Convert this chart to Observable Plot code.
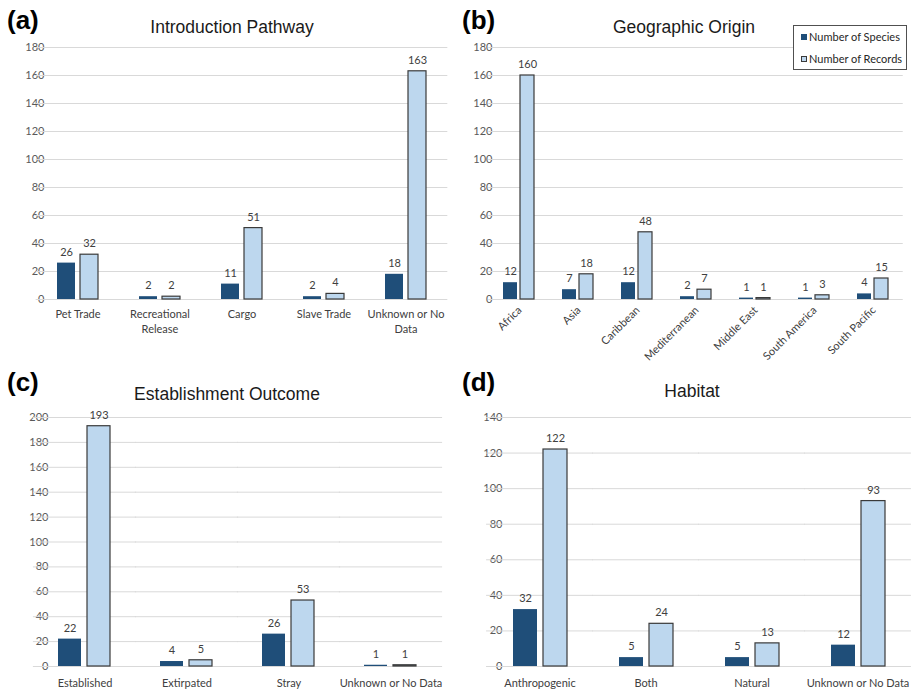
<!DOCTYPE html>
<html>
<head>
<meta charset="utf-8">
<script src="https://cdn.jsdelivr.net/npm/d3@7"></script>
<script src="https://cdn.jsdelivr.net/npm/@observablehq/plot@0.6"></script>
<style>
  html, body { margin: 0; padding: 0; background: #fff; }
  #root { position: relative; width: 911px; height: 690px; overflow: hidden; font-family: Lato, "Liberation Sans", sans-serif; }
  .panel { position: absolute; }
  .tag { position: absolute; font-family: "Liberation Sans", Arial, sans-serif; font-weight: bold; font-size: 26px; color: #000; line-height: 1; }
  .title { position: absolute; font-family: "Liberation Sans", Arial, sans-serif; font-size: 17.5px; color: #1a1a1a; line-height: 1; transform: translate(-50%, -50%); white-space: nowrap; }
  .legend { position: absolute; border: 1px solid #505050; background: #fff; font-family: Lato, sans-serif; font-size: 11px; color: #262626; }
  .legend .item { position: absolute; left: 7px; display: flex; align-items: center; white-space: nowrap; }
  .legend .sw { width: 6px; height: 6px; margin-right: 2px; box-sizing: border-box; }
</style>
</head>
<body>
<div id="root"></div>
<script>
// ---- data ----
const seriesNames = ["Number of Species", "Number of Records"];
const seriesColors = ["#1F4E79", "#BDD7EE"];

const pathwayCats = ["Pet Trade", "Recreational Release", "Cargo", "Slave Trade", "Unknown or No Data"];
const pathwayLabels = ["Pet Trade", "Recreational\nRelease", "Cargo", "Slave Trade", "Unknown or No\nData"];
const pathwaySpecies = [26, 2, 11, 2, 18];
const pathwayRecords = [32, 2, 51, 4, 163];
const pathwayTicks = [0, 20, 40, 60, 80, 100, 120, 140, 160, 180];

const originCats = ["Africa", "Asia", "Caribbean", "Mediterranean", "Middle East", "South America", "South Pacific"];
const originSpecies = [12, 7, 12, 2, 1, 1, 4];
const originRecords = [160, 18, 48, 7, 1, 3, 15];
const originTicks = [0, 20, 40, 60, 80, 100, 120, 140, 160, 180];

const outcomeCats = ["Established", "Extirpated", "Stray", "Unknown or No Data"];
const outcomeSpecies = [22, 4, 26, 1];
const outcomeRecords = [193, 5, 53, 1];
const outcomeTicks = [0, 20, 40, 60, 80, 100, 120, 140, 160, 180, 200];

const habitatCats = ["Anthropogenic", "Both", "Natural", "Unknown or No Data"];
const habitatSpecies = [32, 5, 5, 12];
const habitatRecords = [122, 24, 13, 93];
const habitatTicks = [0, 20, 40, 60, 80, 100, 120, 140];

const root = document.getElementById("root");
const FX_PAD_INNER = 0.48;

function panel(opt) {
  const {cats, labels, species, records, ticks, left, top, width, height,
         marginLeft, marginRight, marginTop, marginBottom, rotate, fxPad, yPad} = opt;
  const data = cats.flatMap((c, i) => [
    {cat: c, series: seriesNames[0], value: species[i]},
    {cat: c, series: seriesNames[1], value: records[i]}
  ]);
  const lab = labels || cats;
  // gridlines are drawn per facet; extend each one across half the gap on either side
  const step = (width - marginLeft - marginRight) / cats.length;
  const ext = step * FX_PAD_INNER / 2 + 0.5;
  const chart = Plot.plot({
    width, height, marginLeft, marginRight, marginTop, marginBottom,
    style: {fontFamily: "Lato, sans-serif", fontSize: "11px", color: "#595959", background: "transparent", overflow: "visible"},
    fx: {domain: cats, paddingInner: FX_PAD_INNER, paddingOuter: FX_PAD_INNER / 2},
    x: {domain: seriesNames, paddingInner: 0.2, paddingOuter: 0, axis: null},
    y: {domain: [0, ticks[ticks.length - 1]], ticks: ticks, tickSize: 0, tickPadding: yPad, label: null},
    color: {domain: seriesNames, range: seriesColors},
    marks: [
      Plot.ruleY(ticks, {stroke: "#d9d9d9", strokeWidth: 1, insetLeft: -ext, insetRight: -ext}),
      Plot.barY(data, {fx: "cat", x: "series", y: "value", fill: "series",
        stroke: d => d.series === seriesNames[1] ? "#3a3a3a" : "none", strokeWidth: 1.2}),
      Plot.text(data, {fx: "cat", x: "series", y: "value", text: d => String(d.value),
        dy: -11, fill: "#404040", fontSize: 11}),
      Plot.axisFx({anchor: "bottom", label: null, tickSize: 0, tickPadding: fxPad, tickRotate: rotate || 0,
        tickFormat: d => lab[cats.indexOf(d)], lineHeight: 1.35, fill: "#404040"})
    ]
  });
  const div = document.createElement("div");
  div.className = "panel";
  div.style.left = left + "px";
  div.style.top = top + "px";
  div.appendChild(chart);
  root.appendChild(div);
}

panel({cats: pathwayCats, labels: pathwayLabels, species: pathwaySpecies, records: pathwayRecords,
  ticks: pathwayTicks, left: 0, top: 0, width: 455, height: 344,
  marginLeft: 35, marginRight: 7, marginTop: 47, marginBottom: 45, fxPad: 8, yPad: 12});
panel({cats: originCats, species: originSpecies, records: originRecords,
  ticks: originTicks, left: 455, top: 0, width: 456, height: 364,
  marginLeft: 33, marginRight: 8, marginTop: 47, marginBottom: 65, rotate: -45, fxPad: 8, yPad: 11});
panel({cats: outcomeCats, species: outcomeSpecies, records: outcomeRecords,
  ticks: outcomeTicks, left: 0, top: 370, width: 455, height: 320,
  marginLeft: 33, marginRight: 12, marginTop: 47, marginBottom: 24, fxPad: 10, yPad: 10});
panel({cats: habitatCats, species: habitatSpecies, records: habitatRecords,
  ticks: habitatTicks, left: 455, top: 370, width: 456, height: 320,
  marginLeft: 32, marginRight: 0, marginTop: 47, marginBottom: 24, fxPad: 10, yPad: 10});

// ---- titles & tags ----
const titles = [
  {tag: "(a)", tx: 7, ty: 7, title: "Introduction Pathway", cx: 232, cy: 28},
  {tag: "(b)", tx: 462, ty: 7, title: "Geographic Origin", cx: 684, cy: 28},
  {tag: "(c)", tx: 7, ty: 369, title: "Establishment Outcome", cx: 227, cy: 395},
  {tag: "(d)", tx: 462, ty: 369, title: "Habitat", cx: 692, cy: 392}
];
for (const t of titles) {
  const a = document.createElement("div");
  a.className = "tag"; a.textContent = t.tag;
  a.style.left = t.tx + "px"; a.style.top = t.ty + "px";
  root.appendChild(a);
  const b = document.createElement("div");
  b.className = "title"; b.textContent = t.title;
  b.style.left = t.cx + "px"; b.style.top = t.cy + "px";
  root.appendChild(b);
}

// ---- legend ----
const lg = document.createElement("div");
lg.className = "legend";
lg.style.left = "793px"; lg.style.top = "25px"; lg.style.width = "112px"; lg.style.height = "43px";
seriesNames.forEach((s, i) => {
  const it = document.createElement("div");
  it.className = "item";
  it.style.top = (i === 0 ? 4 : 26) + "px";
  const sw = document.createElement("span");
  sw.className = "sw";
  sw.style.background = seriesColors[i];
  if (i === 1) sw.style.border = "1px solid #3a3a3a";
  it.appendChild(sw);
  const tx = document.createElement("span");
  tx.textContent = s;
  it.appendChild(tx);
  lg.appendChild(it);
});
root.appendChild(lg);
</script>
</body>
</html>
